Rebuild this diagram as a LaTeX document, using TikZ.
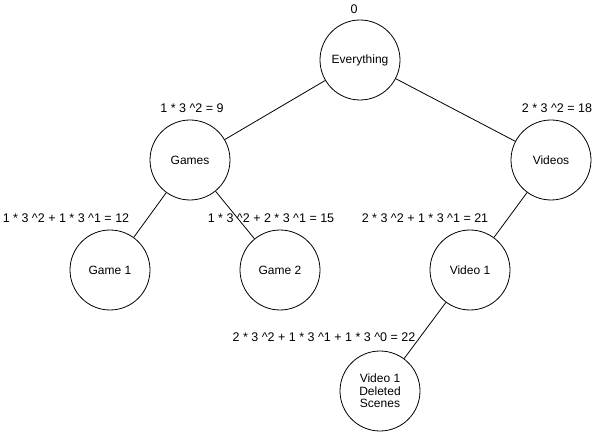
\documentclass[tikz,border=0pt]{standalone}
\usepackage{fontspec}
\setmainfont{Liberation Sans}
\begin{document}
\begin{tikzpicture}[x=1pt,y=-1pt,
  tnode/.style={draw=black,circle,minimum size=80pt,inner sep=0pt,line width=0.8pt,font=\fontsize{12}{12.5}\selectfont,align=center},
  lbl/.style={font=\fontsize{12.5}{14}\selectfont,inner sep=0pt},
  edge/.style={draw=black,line width=0.8pt}]
\useasboundingbox (0,0) rectangle (612,435);
\node[tnode] (every) at (360,60) {Everything};
\node[tnode] (games) at (190,160) {Games};
\node[tnode] (videos) at (551,160) {Videos};
\node[tnode] (g1) at (110,270) {Game 1};
\node[tnode] (g2) at (280,270) {Game 2};
\node[tnode] (v1) at (470,270) {Video 1};
\node[tnode] (v1d) at (380,391) {Video 1\\Deleted\\Scenes};
\draw[edge] (every) -- (games);
\draw[edge] (every) -- (videos);
\draw[edge] (games) -- (g1);
\draw[edge] (games) -- (g2);
\draw[edge] (videos) -- (v1);
\draw[edge] (v1) -- (v1d);
\node[lbl] (l0) at (354,9) {0};
\node[lbl] (l9) at (192,108) {1 * 3 \^{}2 = 9};
\node[lbl] (l18) at (557,108) {2 * 3 \^{}2 = 18};
\node[lbl] (l12) at (66,218) {1 * 3 \^{}2 + 1 * 3 \^{}1 = 12};
\node[lbl] (l15) at (271,218) {1 * 3 \^{}2 + 2 * 3 \^{}1 = 15};
\node[lbl] (l21) at (425,218) {2 * 3 \^{}2 + 1 * 3 \^{}1 = 21};
\node[lbl] (l22) at (324,337) {2 * 3 \^{}2 + 1 * 3 \^{}1 + 1 * 3 \^{}0 = 22};
\end{tikzpicture}
\end{document}
